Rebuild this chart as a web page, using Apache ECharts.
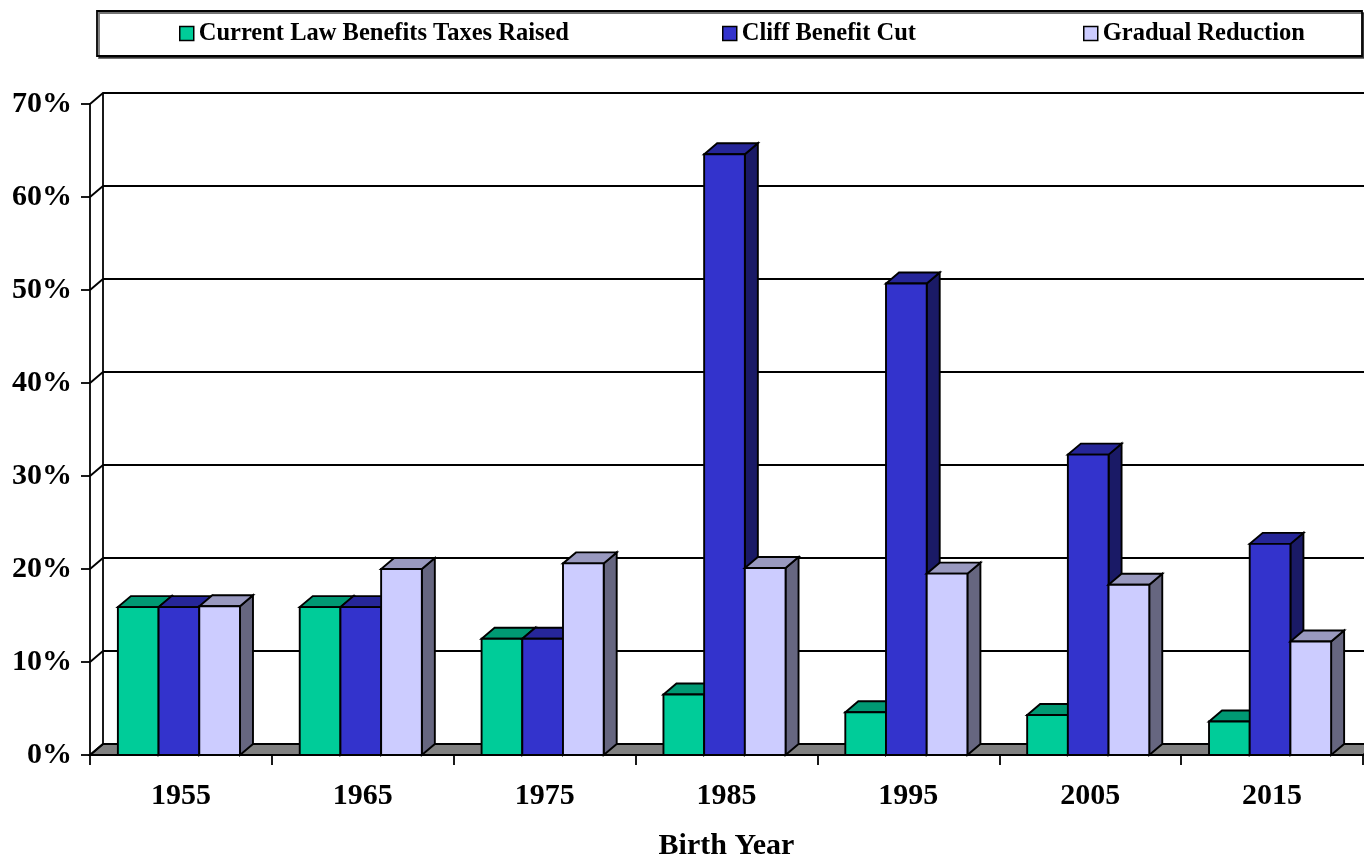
<!DOCTYPE html>
<html>
<head>
<meta charset="utf-8">
<title>Birth Year</title>
<script src="https://cdn.jsdelivr.net/npm/echarts@6/dist/echarts.min.js"></script>
<style>
  html, body { margin: 0; padding: 0; background: #ffffff; }
  #chart { width: 1364px; height: 855px; }
</style>
</head>
<body>
<div id="chart"></div>
<script>
// Birth-year cohorts on the category axis
const CATEGORIES = ['1955', '1965', '1975', '1985', '1995', '2005', '2015'];

// Percent values for each policy scenario
const SERIES_NAMES = ['Current Law Benefits Taxes Raised', 'Cliff Benefit Cut', 'Gradual Reduction'];
const CURRENT_LAW = [15.9, 15.9, 12.5, 6.5, 4.6, 4.3, 3.6];
const CLIFF_CUT = [15.9, 15.9, 12.5, 64.6, 50.7, 32.3, 22.7];
const GRADUAL = [16.0, 20.0, 20.6, 20.1, 19.5, 18.3, 12.2];

// Value-axis ticks
const Y_MIN = 0;
const Y_MAX = 70;
const Y_STEP = 10;
const Y_TICKS = [0, 10, 20, 30, 40, 50, 60, 70];

// Oblique depth of the 3-D box (pixels)
const DX = 13;
const DY = 11;
const BAR_FRAC = 0.2238;   // width of one bar as a share of the category band
const GROUP_SHIFT = 0.011; // small leftward shift of each bar cluster

const FONT = "'Liberation Serif', 'Times New Roman', serif";

// Face colours: front, top, side
const PALETTES = [
  { front: '#00CC99', top: '#009973', side: '#00664D' },
  { front: '#3333CC', top: '#262699', side: '#1A1A66' },
  { front: '#CCCCFF', top: '#9999BF', side: '#666680' }
];

const EDGE = { stroke: '#000000', lineWidth: 1.9 };
const GRID_LINE = { color: '#000000', width: 1.8 };

function barRenderer(sIdx) {
  const pal = PALETTES[sIdx];
  return function (params, api) {
    const i = api.value(0);
    const v = api.value(1);
    const base = api.coord([i, 0]);
    const top = api.coord([i, v]);
    const band = api.size([1, 0])[0];
    const w = band * BAR_FRAC;
    const x0 = base[0] - 1.5 * w - band * GROUP_SHIFT + sIdx * w;
    const x1 = x0 + w;
    const yb = base[1];
    const yt = top[1];
    return {
      type: 'group',
      children: [
        {
          type: 'polygon',
          shape: { points: [[x1, yb], [x1 + DX, yb - DY], [x1 + DX, yt - DY], [x1, yt]] },
          style: Object.assign({ fill: pal.side, lineJoin: 'miter' }, EDGE)
        },
        {
          type: 'polygon',
          shape: { points: [[x0, yt], [x1, yt], [x1 + DX, yt - DY], [x0 + DX, yt - DY]] },
          style: Object.assign({ fill: pal.top, lineJoin: 'miter' }, EDGE)
        },
        {
          type: 'rect',
          shape: { x: x0, y: yt, width: w, height: yb - yt },
          style: Object.assign({ fill: pal.front, lineJoin: 'miter' }, EDGE)
        }
      ]
    };
  };
}

// Floor slab and the diagonal gridline stubs on the left side wall
function floorRenderer(params, api) {
  const band = api.size([1, 0])[0];
  const left = api.coord([0, Y_MIN])[0] - band / 2;
  const right = api.coord([CATEGORIES.length - 1, Y_MIN])[0] + band / 2;
  const y0 = api.coord([0, Y_MIN])[1];
  const children = [
    {
      type: 'polygon',
      shape: { points: [[left, y0], [right, y0], [right + DX, y0 - DY], [left + DX, y0 - DY]] },
      style: Object.assign({ fill: '#808080' }, EDGE)
    }
  ];
  Y_TICKS.forEach(function (t) {
    const y = api.coord([0, t])[1];
    children.push({
      type: 'line',
      shape: { x1: left, y1: y, x2: left + DX, y2: y - DY },
      style: EDGE
    });
  });
  return { type: 'group', children: children };
}

const seriesValues = [CURRENT_LAW, CLIFF_CUT, GRADUAL];

const chart = echarts.init(document.getElementById('chart'), null, { renderer: 'canvas' });

const labelStyle = { fontFamily: FONT, fontWeight: 'bold', fontSize: 30, color: '#000000' };
const legendText = { fontFamily: FONT, fontWeight: 'bold', fontSize: 24.5, color: '#000000' };

function legendAt(name, left) {
  return {
    data: [name],
    left: left,
    top: 21,
    padding: 0,
    icon: 'rect',
    itemWidth: 14,
    itemHeight: 14,
    selectedMode: false,
    itemStyle: { borderColor: '#000000', borderWidth: 1.5 },
    textStyle: legendText
  };
}

const option = {
  backgroundColor: '#ffffff',
  animation: false,
  graphic: [
    {
      type: 'rect',
      z: -1,
      shape: { x: 97, y: 11, width: 1265, height: 45 },
      style: {
        fill: '#ffffff', stroke: '#000000', lineWidth: 1.8,
        shadowColor: 'rgba(0,0,0,0.55)', shadowOffsetX: 2, shadowOffsetY: 2, shadowBlur: 0
      }
    }
  ],
  legend: [
    legendAt(SERIES_NAMES[0], 179),
    legendAt(SERIES_NAMES[1], 722),
    legendAt(SERIES_NAMES[2], 1083)
  ],
  grid: [
    // front plane of the box
    { left: 90, right: 1, top: 104, bottom: 100, outerBoundsMode: 'none', containLabel: false },
    // back wall, pushed back by the depth offset
    { left: 90 + DX, right: 0, top: 104 - DY, bottom: 100 + DY, outerBoundsMode: 'none', containLabel: false }
  ],
  xAxis: [
    {
      type: 'category',
      gridIndex: 0,
      data: CATEGORIES,
      boundaryGap: true,
      name: 'Birth Year',
      nameLocation: 'middle',
      nameGap: 76,
      nameTextStyle: labelStyle,
      axisLine: { show: true, lineStyle: GRID_LINE },
      axisTick: { show: true, alignWithLabel: false, length: 10, lineStyle: GRID_LINE },
      axisLabel: Object.assign({ margin: 26 }, labelStyle),
      splitLine: { show: false }
    },
    {
      type: 'value',
      gridIndex: 1,
      show: false
    }
  ],
  yAxis: [
    {
      type: 'value',
      gridIndex: 0,
      min: Y_MIN,
      max: Y_MAX,
      interval: Y_STEP,
      axisLine: { show: true, lineStyle: GRID_LINE },
      axisTick: { show: true, inside: false, length: 9, lineStyle: GRID_LINE },
      axisLabel: Object.assign({ margin: 18, formatter: '{value}%' }, labelStyle),
      splitLine: { show: false }
    },
    {
      type: 'value',
      gridIndex: 1,
      min: Y_MIN,
      max: Y_MAX,
      interval: Y_STEP,
      axisLine: { show: true, lineStyle: GRID_LINE },
      axisTick: { show: false },
      axisLabel: { show: false },
      splitLine: { show: true, lineStyle: GRID_LINE }
    }
  ],
  series: [
    {
      type: 'custom',
      name: 'floor',
      xAxisIndex: 0,
      yAxisIndex: 0,
      z: 2,
      silent: true,
      renderItem: floorRenderer,
      data: [[0, 0]]
    }
  ].concat(SERIES_NAMES.map(function (name, s) {
    return {
      type: 'custom',
      name: name,
      xAxisIndex: 0,
      yAxisIndex: 0,
      z: 3,
      itemStyle: { color: PALETTES[s].front, borderColor: '#000000', borderWidth: 1.5 },
      encode: { x: 0, y: 1 },
      renderItem: barRenderer(s),
      data: seriesValues[s].map(function (v, i) { return [i, v]; })
    };
  }))
};

chart.setOption(option);
</script>
</body>
</html>
